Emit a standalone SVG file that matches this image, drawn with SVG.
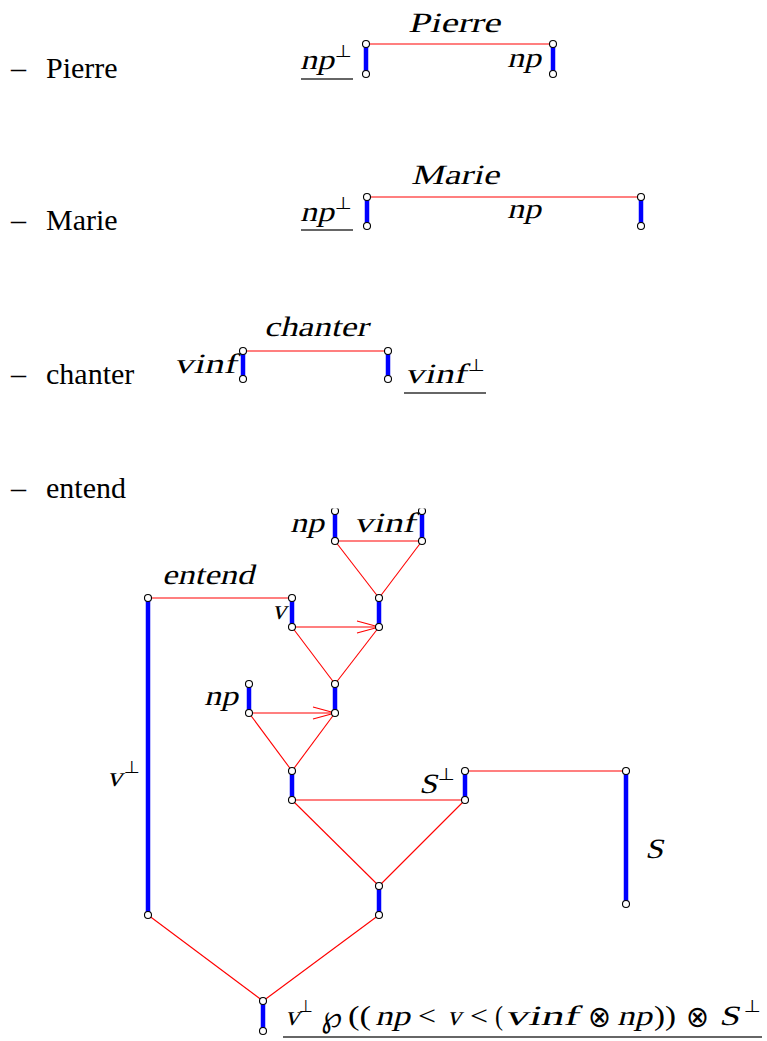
<svg xmlns="http://www.w3.org/2000/svg" width="767" height="1041" viewBox="0 0 767 1041">
<style>
.item{font-family:"Liberation Serif","Times New Roman",serif;font-size:30px;fill:#000}
.m{font-family:"Liberation Serif","Times New Roman",serif;font-size:28px;fill:#000}
.u{font-family:"Liberation Serif","DejaVu Serif",serif;font-size:27px;fill:#000}
.sym{font-family:"DejaVu Sans","Liberation Sans",sans-serif;font-size:30px;fill:#000}
.sup{font-family:"DejaVu Sans","Liberation Sans",sans-serif;font-size:17px;fill:#000}
.bar{stroke:#0000ff;stroke-width:4.5;fill:none}
.ln{stroke:#ff0000;stroke-width:1.1;fill:none}
.pt{fill:#fff;stroke:#000;stroke-width:1.1}
.ul{stroke:#333;stroke-width:1.6}
</style>
<defs>
<marker id="arr" markerUnits="userSpaceOnUse" markerWidth="26" markerHeight="16" refX="23" refY="7" orient="auto">
<path d="M1,1 L23,7 L1,13" fill="none" stroke="#ff0000" stroke-width="1.1"/>
</marker>
<clipPath id="topclip"><rect x="0" y="508.5" width="767" height="40"/></clipPath>
</defs>
<rect width="767" height="1041" fill="#fff"/>

<g id="items">
<text class="item" x="11" y="78">–</text><text class="item" x="46" y="78">Pierre</text>
<text class="item" x="11" y="230">–</text><text class="item" x="46" y="230">Marie</text>
<text class="item" x="11" y="384">–</text><text class="item" x="46" y="384">chanter</text>
<text class="item" x="11" y="498">–</text><text class="item" x="46" y="498">entend</text>
</g>

<g id="connectors">
<line class="ln" x1="366" y1="44" x2="553" y2="44"/>
<line class="ln" x1="367" y1="197" x2="641" y2="197"/>
<line class="ln" x1="243" y1="351" x2="388" y2="351"/>
<line class="ln" x1="148" y1="598" x2="292" y2="598"/>
<line class="ln" x1="335" y1="541" x2="422" y2="541"/>
<line class="ln" x1="335" y1="541" x2="379" y2="598"/>
<line class="ln" x1="422" y1="541" x2="379" y2="598"/>
<line class="ln" x1="292" y1="627" x2="379" y2="627" marker-end="url(#arr)"/>
<line class="ln" x1="292" y1="627" x2="335" y2="684"/>
<line class="ln" x1="379" y1="627" x2="335" y2="684"/>
<line class="ln" x1="249" y1="713" x2="335" y2="713" marker-end="url(#arr)"/>
<line class="ln" x1="249" y1="713" x2="292" y2="771"/>
<line class="ln" x1="335" y1="713" x2="292" y2="771"/>
<line class="ln" x1="292" y1="800" x2="465" y2="800"/>
<line class="ln" x1="465" y1="771" x2="626" y2="771"/>
<line class="ln" x1="292" y1="800" x2="379" y2="886"/>
<line class="ln" x1="465" y1="800" x2="379" y2="886"/>
<line class="ln" x1="148" y1="915" x2="263" y2="1001"/>
<line class="ln" x1="379" y1="915" x2="263" y2="1001"/>
</g>

<g id="pierre">
<line class="bar" x1="366" y1="44" x2="366" y2="74"/>
<line class="bar" x1="553" y1="44" x2="553" y2="74"/>
<circle class="pt" cx="366" cy="44" r="3.5"/><circle class="pt" cx="366" cy="74" r="3.5"/>
<circle class="pt" cx="553" cy="44" r="3.5"/><circle class="pt" cx="553" cy="74" r="3.5"/>
<text class="m" transform="translate(408,32) skewX(-14)" textLength="92" lengthAdjust="spacingAndGlyphs">Pierre</text>
<text class="m" transform="translate(300,69) skewX(-14)" textLength="34" lengthAdjust="spacingAndGlyphs">np</text>
<text class="sup" x="335" y="57" textLength="17" lengthAdjust="spacingAndGlyphs">⊥</text>
<line class="ul" x1="301" y1="79" x2="353" y2="79"/>
<text class="m" transform="translate(507,67) skewX(-14)" textLength="34" lengthAdjust="spacingAndGlyphs">np</text>
</g>

<g id="marie">
<line class="bar" x1="367" y1="197" x2="367" y2="226"/>
<line class="bar" x1="641" y1="197" x2="641" y2="226"/>
<circle class="pt" cx="367" cy="197" r="3.5"/><circle class="pt" cx="367" cy="226" r="3.5"/>
<circle class="pt" cx="641" cy="197" r="3.5"/><circle class="pt" cx="641" cy="226" r="3.5"/>
<text class="m" transform="translate(411,184) skewX(-14)" textLength="88" lengthAdjust="spacingAndGlyphs">Marie</text>
<text class="m" transform="translate(300,221) skewX(-14)" textLength="34" lengthAdjust="spacingAndGlyphs">np</text>
<text class="sup" x="335" y="209" textLength="17" lengthAdjust="spacingAndGlyphs">⊥</text>
<line class="ul" x1="301" y1="230" x2="353" y2="230"/>
<text class="m" transform="translate(507,218) skewX(-14)" textLength="34" lengthAdjust="spacingAndGlyphs">np</text>
</g>

<g id="chanter">
<line class="bar" x1="243" y1="351" x2="243" y2="379"/>
<line class="bar" x1="388" y1="351" x2="388" y2="379"/>
<circle class="pt" cx="243" cy="351" r="3.5"/><circle class="pt" cx="243" cy="379" r="3.5"/>
<circle class="pt" cx="388" cy="351" r="3.5"/><circle class="pt" cx="388" cy="379" r="3.5"/>
<text class="m" transform="translate(264,336) skewX(-14)" textLength="104" lengthAdjust="spacingAndGlyphs">chanter</text>
<text class="m" transform="translate(174,373) skewX(-14)" textLength="62" lengthAdjust="spacingAndGlyphs">vinf</text>
<text class="m" transform="translate(405,383) skewX(-14)" textLength="61" lengthAdjust="spacingAndGlyphs">vinf</text>
<text class="sup" x="468" y="371" textLength="17" lengthAdjust="spacingAndGlyphs">⊥</text>
<line class="ul" x1="404" y1="393" x2="486" y2="393"/>
</g>

<g id="entend">
<line class="bar" x1="148" y1="598" x2="148" y2="915"/>
<circle class="pt" cx="148" cy="598" r="3.5"/><circle class="pt" cx="148" cy="915" r="3.5"/>
<text class="m" transform="translate(162,584) skewX(-14)" textLength="92" lengthAdjust="spacingAndGlyphs">entend</text>
<text class="m" transform="translate(107,786) skewX(-14)" textLength="15" lengthAdjust="spacingAndGlyphs">v</text>
<text class="sup" x="124" y="773" textLength="16" lengthAdjust="spacingAndGlyphs">⊥</text>
</g>

<g id="v-node">
<line class="bar" x1="292" y1="598" x2="292" y2="627"/>
<circle class="pt" cx="292" cy="598" r="3.5"/><circle class="pt" cx="292" cy="627" r="3.5"/>
<text class="m" transform="translate(272,619) skewX(-14)" textLength="14" lengthAdjust="spacingAndGlyphs">v</text>
</g>

<g id="np-vinf-top">
<line class="bar" x1="335" y1="511" x2="335" y2="541"/>
<line class="bar" x1="422" y1="511" x2="422" y2="541"/>
<circle class="pt" cx="335" cy="511" r="3.5" clip-path="url(#topclip)"/>
<circle class="pt" cx="422" cy="511" r="3.5" clip-path="url(#topclip)"/>
<circle class="pt" cx="335" cy="541" r="3.5"/><circle class="pt" cx="422" cy="541" r="3.5"/>
<text class="m" transform="translate(290,532) skewX(-14)" textLength="34" lengthAdjust="spacingAndGlyphs">np</text>
<text class="m" transform="translate(354,532) skewX(-14)" textLength="61" lengthAdjust="spacingAndGlyphs">vinf</text>
</g>

<g id="tensor1">
<line class="bar" x1="379" y1="598" x2="379" y2="627"/>
<circle class="pt" cx="379" cy="598" r="3.5"/><circle class="pt" cx="379" cy="627" r="3.5"/>
</g>

<g id="prec1">
<line class="bar" x1="335" y1="684" x2="335" y2="713"/>
<circle class="pt" cx="335" cy="684" r="3.5"/><circle class="pt" cx="335" cy="713" r="3.5"/>
</g>

<g id="np-mid">
<line class="bar" x1="249" y1="684" x2="249" y2="713"/>
<circle class="pt" cx="249" cy="684" r="3.5"/><circle class="pt" cx="249" cy="713" r="3.5"/>
<text class="m" transform="translate(204,705) skewX(-14)" textLength="34" lengthAdjust="spacingAndGlyphs">np</text>
</g>

<g id="prec2">
<line class="bar" x1="292" y1="771" x2="292" y2="800"/>
<circle class="pt" cx="292" cy="771" r="3.5"/><circle class="pt" cx="292" cy="800" r="3.5"/>
</g>

<g id="s-perp">
<line class="bar" x1="465" y1="771" x2="465" y2="800"/>
<circle class="pt" cx="465" cy="771" r="3.5"/><circle class="pt" cx="465" cy="800" r="3.5"/>
<text class="m" transform="translate(419,793) skewX(-14)" textLength="18" lengthAdjust="spacingAndGlyphs">S</text>
<text class="sup" x="438" y="780" textLength="17" lengthAdjust="spacingAndGlyphs">⊥</text>
</g>

<g id="s-node">
<line class="bar" x1="626" y1="771" x2="626" y2="904"/>
<circle class="pt" cx="626" cy="771" r="3.5"/><circle class="pt" cx="626" cy="904" r="3.5"/>
<text class="m" transform="translate(645,858) skewX(-14)" textLength="18" lengthAdjust="spacingAndGlyphs">S</text>
</g>

<g id="tensor2">
<line class="bar" x1="379" y1="886" x2="379" y2="915"/>
<circle class="pt" cx="379" cy="886" r="3.5"/><circle class="pt" cx="379" cy="915" r="3.5"/>
</g>

<g id="root">
<line class="bar" x1="263" y1="1001" x2="263" y2="1031"/>
<circle class="pt" cx="263" cy="1001" r="3.5"/><circle class="pt" cx="263" cy="1031" r="3.5"/>
<text class="m" transform="translate(285,1025) skewX(-14)" textLength="14" lengthAdjust="spacingAndGlyphs">v</text>
<text class="sup" x="299" y="1012" textLength="14" lengthAdjust="spacingAndGlyphs">⊥</text>
<text class="sym" x="321" y="1027" textLength="21" lengthAdjust="spacingAndGlyphs">℘</text>
<text class="u" x="348" y="1025" textLength="23" lengthAdjust="spacingAndGlyphs">((</text>
<text class="m" transform="translate(375,1025) skewX(-14)" textLength="35" lengthAdjust="spacingAndGlyphs">np</text>
<text class="u" x="418" y="1025" textLength="18" lengthAdjust="spacingAndGlyphs">&lt;</text>
<text class="m" transform="translate(447,1025) skewX(-14)" textLength="14" lengthAdjust="spacingAndGlyphs">v</text>
<text class="u" x="470" y="1025" textLength="18" lengthAdjust="spacingAndGlyphs">&lt;</text>
<text class="u" x="495" y="1025" textLength="8" lengthAdjust="spacingAndGlyphs">(</text>
<text class="m" transform="translate(505,1025) skewX(-14)" textLength="73" lengthAdjust="spacingAndGlyphs">vinf</text>
<text class="sym" x="588" y="1027" textLength="23" lengthAdjust="spacingAndGlyphs">⊗</text>
<text class="m" transform="translate(617,1025) skewX(-14)" textLength="35" lengthAdjust="spacingAndGlyphs">np</text>
<text class="u" x="654" y="1025" textLength="22" lengthAdjust="spacingAndGlyphs">))</text>
<text class="sym" x="686" y="1027" textLength="23" lengthAdjust="spacingAndGlyphs">⊗</text>
<text class="m" transform="translate(719,1025) skewX(-14)" textLength="20" lengthAdjust="spacingAndGlyphs">S</text>
<text class="sup" x="744" y="1012" textLength="17" lengthAdjust="spacingAndGlyphs">⊥</text>
<line class="ul" x1="283" y1="1037" x2="762" y2="1037"/>
</g>
</svg>
